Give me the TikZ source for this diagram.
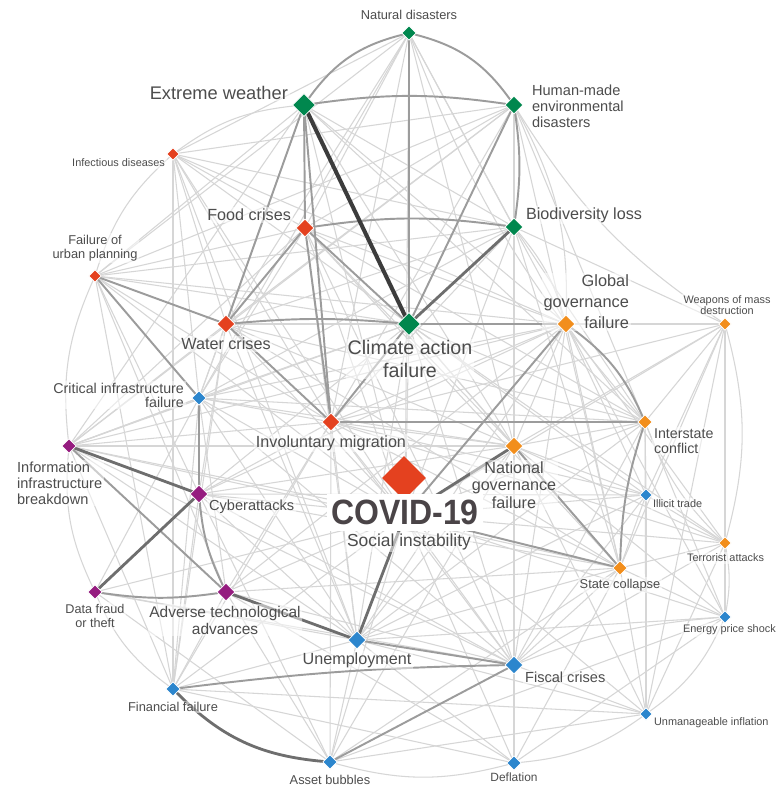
\documentclass[tikz,border=0pt]{standalone}
\usepackage{fontspec}
\setmainfont{Liberation Sans}
\usepackage{xcolor}
\usetikzlibrary{shapes.geometric,backgrounds}

\definecolor{envgreen}{HTML}{00874E}
\definecolor{socred}{HTML}{E4411F}
\definecolor{geoorange}{HTML}{F28E1C}
\definecolor{ecoblue}{HTML}{2C86CD}
\definecolor{techpurple}{HTML}{951C7F}
\definecolor{labelgray}{HTML}{4D4D4D}
\definecolor{covidgray}{HTML}{4A4447}
\definecolor{linkdark}{HTML}{3C3C3C}
\definecolor{linkmid}{HTML}{6E6E6E}
\definecolor{linkgray}{HTML}{9C9C9C}
\definecolor{linklight}{HTML}{D6D6D6}

\begin{document}
\begin{tikzpicture}[
  x=0.02cm, y=-0.02cm,
  risk/.style={diamond, draw=white, line width=0.4pt, inner sep=0pt, fill=#1},
  riskxl/.style={risk=#1, minimum size=0.46cm},
  riskmd/.style={risk=#1, minimum size=0.36cm},
  risksm/.style={risk=#1, minimum size=0.29cm},
  risktn/.style={risk=#1, minimum size=0.25cm},
  lbl/.style={text=labelgray, inner sep=1pt, fill=white, fill opacity=0.5, text opacity=1},
  lblxl/.style={lbl, font=\fontsize{10.4}{13}\selectfont},
  lblmd/.style={lbl, font=\fontsize{9.2}{10}\selectfont},
  lblsm/.style={lbl, font=\fontsize{8.3}{9}\selectfont},
  lbltn/.style={lbl, font=\fontsize{7.3}{8}\selectfont},
  lblxs/.style={lbl, font=\fontsize{6.2}{6.4}\selectfont},
  covidbox/.style={fill=white, text=covidgray, inner sep=0pt,
    minimum width=3.12cm, minimum height=0.74cm,
    font=\bfseries\fontsize{20}{20}\selectfont},
  link/.style={line cap=round},
  linkheavy/.style={link, draw=linkdark, line width=2.3pt},
  linkstrong/.style={link, draw=linkmid, line width=1.6pt},
  linkmed/.style={link, draw=linkgray, line width=1.1pt},
  linkfaint/.style={link, draw=linklight, line width=0.6pt}
]
% Labels (under the diamonds)
\node[lbltn] (nat-l) at (409,15) {Natural disasters};
\node[lblxl, anchor=east] (ext-l) at (290,93) {Extreme weather};
\node[lblsm, anchor=west, align=left] (hum-l) at (530,106) {Human-made\\environmental\\disasters};
\node[lblxs, anchor=east] (inf-l) at (167,163) {Infectious diseases};
\node[lblmd, anchor=east] (food-l) at (293,215) {Food crises};
\node[lblmd, anchor=west] (bio-l) at (524,215) {Biodiversity loss};
\node[lbltn, align=center] (urb-l) at (95,248) {Failure of\\urban planning};
\node[lblmd] (water-l) at (226,344) {Water crises};
\node[lblxl, align=center, font=\fontsize{11.2}{12.6}\selectfont] (clim-l) at (410,359) {Climate action\\failure};
\node[lblmd, anchor=east, align=right, font=\fontsize{9.3}{12}\selectfont] (glob-l) at (631,302) {Global\\governance\\failure};
\node[lblxs, align=center] (wmd-l) at (727,305) {Weapons of mass\\destruction};
\node[lblsm, anchor=east, align=right, font=\fontsize{8.1}{8}\selectfont] (crit-l) at (186,395) {Critical infrastructure\\failure};
\node[lblmd] (mig-l) at (331,443) {Involuntary migration};
\node[lblsm, anchor=west, align=left, font=\fontsize{8.1}{8.5}\selectfont] (inter-l) at (652,441) {Interstate\\conflict};
\node[lblmd, align=center] (natgov-l) at (514,485) {National\\governance\\failure};
\node[lblsm, anchor=west, align=left] (info-l) at (15,483) {Information\\infrastructure\\breakdown};
\node[lblxs, anchor=west] (illicit-l) at (651,504) {Illicit trade};
\node[lblsm, anchor=west] (cyber-l) at (207,507) {Cyberattacks};
\node[lblxl, font=\fontsize{9.9}{12}\selectfont] (social-l) at (409,542) {Social instability};
\node[lblxs, anchor=west] (terror-l) at (685,558) {Terrorist attacks};
\node[lbltn] (state-l) at (620,585) {State collapse};
\node[lbltn, align=center, font=\fontsize{7.2}{8.5}\selectfont] (fraud-l) at (95,616) {Data fraud\\or theft};
\node[lblmd, align=center, font=\fontsize{8.8}{9.7}\selectfont] (adv-l) at (225,620) {Adverse technological\\advances};
\node[lblxs, anchor=west] (energy-l) at (681,630) {Energy price shock};
\node[lblmd] (unemp-l) at (357,660) {Unemployment};
\node[lblsm, anchor=west] (fiscal-l) at (523,677) {Fiscal crises};
\node[lbltn] (fin-l) at (173,707) {Financial failure};
\node[lblxs, anchor=west] (infl-l) at (652,723) {Unmanageable inflation};
\node[lbltn] (asset-l) at (330,780) {Asset bubbles};
\node[lbltn, font=\fontsize{6.8}{8}\selectfont] (defl-l) at (514,777) {Deflation};

% Environmental risks
\node[risksm=envgreen] (nat) at (409,33) {};
\node[riskxl=envgreen] (ext) at (304,105) {};
\node[riskmd=envgreen] (hum) at (514,105) {};
\node[riskmd=envgreen] (bio) at (514,227) {};
\node[riskxl=envgreen] (clim) at (409,324) {};

% Societal risks
\node[risktn=socred] (inf) at (173,154) {};
\node[riskmd=socred] (food) at (305,228) {};
\node[risktn=socred] (urb) at (95,276) {};
\node[riskmd=socred] (water) at (226,324) {};
\node[riskmd=socred] (mig) at (331,422) {};
\node[diamond, fill=socred, inner sep=0pt, minimum size=0.88cm] (covid) at (404,478) {};
\coordinate (social) at (405,515);
\node[covidbox] (covid-l) at (405,512) {\scalebox{0.91}[1]{COVID-19}};

% Geopolitical risks
\node[riskmd=geoorange] (glob) at (566,324) {};
\node[risktn=geoorange] (wmd) at (725,324) {};
\node[risksm=geoorange] (inter) at (645,422) {};
\node[riskmd=geoorange] (natgov) at (514,446) {};
\node[risktn=geoorange] (terror) at (725,543) {};
\node[risksm=geoorange] (state) at (620,568) {};

% Technological risks
\node[risksm=ecoblue] (crit) at (199,398) {};
\node[risksm=techpurple] (info) at (69,446) {};
\node[riskmd=techpurple] (cyber) at (199,494) {};
\node[risksm=techpurple] (fraud) at (95,592) {};
\node[riskmd=techpurple] (adv) at (226,592) {};

% Economic risks
\node[risktn=ecoblue] (illicit) at (646,495) {};
\node[risktn=ecoblue] (energy) at (725,617) {};
\node[riskmd=ecoblue] (unemp) at (357,640) {};
\node[riskmd=ecoblue] (fiscal) at (514,665) {};
\node[risksm=ecoblue] (fin) at (173,689) {};
\node[risktn=ecoblue] (infl) at (646,714) {};
\node[risksm=ecoblue] (asset) at (330,762) {};
\node[risksm=ecoblue] (defl) at (514,763) {};

\useasboundingbox (0,0) rectangle (762,788);

\begin{scope}[on background layer]
\fill[white] (0,0) rectangle (762,788);

% Faint links
\path[linkfaint] (nat) edge (food) edge (water) edge (bio) edge (glob) edge (mig)
  edge (inf) edge (natgov) edge (crit) edge (urb) edge (social) edge[bend right=10] (inter);
\path[linkfaint] (ext) edge (urb) edge (bio) edge (glob) edge (natgov)
  edge (social) edge (inter) edge (crit) edge (info);
\path[linkfaint] (hum) edge (food) edge (water) edge[bend left=15] (glob) edge (mig) edge (inf)
  edge (inter) edge (state) edge (natgov) edge (urb) edge (info) edge[bend right=12] (wmd);
\path[linkfaint] (inf) edge (food) edge (water) edge (clim) edge (mig) edge (bio)
  edge (social) edge (unemp) edge (fin) edge (crit) edge (glob);
\path[linkfaint] (food) edge (glob) edge (natgov) edge (social) edge (unemp) edge (inter)
  edge (state) edge (crit) edge (urb) edge (fiscal) edge (info);
\path[linkfaint] (bio) edge (water) edge (mig) edge (natgov) edge (social) edge (fiscal)
  edge (crit) edge (urb) edge (inter) edge (state) edge (wmd) edge[bend left=12] (glob);
\path[linkfaint] (urb) edge (mig) edge (social) edge (clim) edge (cyber) edge (adv)
  edge (fin) edge (glob);
\path[linkfaint] (water) edge (social) edge (natgov) edge (crit) edge (cyber)
  edge (glob) edge (unemp) edge (fin) edge (state) edge (info) edge (inter);
\path[linkfaint] (clim) edge (natgov) edge (social) edge (inter) edge (crit)
  edge (fiscal) edge (unemp) edge (state) edge (info) edge (cyber) edge (illicit) edge (terror);
\path[linkfaint] (glob) edge (wmd) edge (natgov) edge (mig) edge (state) edge (illicit)
  edge (terror) edge (unemp) edge (fiscal) edge (cyber) edge (info) edge (crit)
  edge (energy) edge (adv);
\path[linkfaint] (wmd) edge (inter) edge (state) edge (illicit) edge (mig) edge (natgov)
  edge (social) edge (energy) edge (infl);
\path[linkfaint] (crit) edge (info) edge (mig) edge (social) edge (adv) edge (fin)
  edge (natgov) edge (inter) edge (fraud) edge (unemp) edge (fiscal);
\path[linkfaint] (mig) edge (natgov) edge (social) edge (state) edge (unemp) edge (cyber)
  edge (info) edge (terror) edge (fiscal) edge (illicit) edge (adv) edge (fin) edge (asset);
\path[linkfaint] (inter) edge (natgov) edge (illicit) edge[bend right=12] (terror) edge (social)
  edge (energy) edge (infl) edge (fiscal) edge (unemp);
\path[linkfaint] (natgov) edge (illicit) edge (terror) edge (unemp) edge (fiscal) edge (cyber)
  edge (info) edge (energy) edge (infl) edge (asset) edge (defl);
\path[linkfaint] (info) edge (crit) edge (social) edge (fin) edge (unemp) edge (fiscal) edge (state);
\path[linkfaint] (illicit) edge (state) edge (terror) edge (social) edge (fiscal) edge (cyber)
  edge (infl) edge (unemp);
\path[linkfaint] (cyber) edge (social) edge (unemp) edge (fin) edge (fiscal) edge (state) edge (asset);
\path[linkfaint] (social) edge (fiscal) edge (terror) edge (energy) edge (infl) edge (asset)
  edge (defl) edge (fin) edge (adv);
\path[linkfaint] (terror) edge (state) edge (infl) edge (fiscal);
\path[linkfaint] (state) edge (energy) edge (fiscal) edge (infl) edge (unemp) edge (defl)
  edge (asset) edge (adv);
\path[linkfaint] (fraud) edge (unemp) edge (asset) edge (fiscal) edge (social);
\path[linkfaint] (adv) edge (fin) edge (fiscal) edge (asset) edge (defl);
\path[linkfaint] (energy) edge[bend right=8] (fiscal) edge (defl) edge (unemp) edge (asset);
\path[linkfaint] (unemp) edge (fin) edge (asset) edge (defl) edge (infl);
\path[linkfaint] (fiscal) edge (defl) edge (infl);
\path[linkfaint] (fin) edge (defl) edge (infl);
\path[linkfaint] (infl) edge (asset);

% Outer ring
\path[linkfaint] (inf) edge[bend left=15] (ext);
\path[linkfaint] (urb) edge[bend left=15] (inf);
\path[linkfaint] (info) edge[bend left=15] (urb);
\path[linkfaint] (fraud) edge[bend left=15] (info);
\path[linkfaint] (fin) edge[bend left=15] (fraud);
\path[linkfaint] (defl) edge[bend left=15] (asset);
\path[linkfaint] (infl) edge[bend left=15] (defl);
\path[linkfaint] (energy) edge[bend left=15] (infl);
\path[linkfaint] (terror) edge[bend left=10] (energy);
\path[linkfaint] (wmd) edge[bend left=15] (terror);

% Medium links
\path[linkmed] (ext) edge[bend left=20] (nat) edge[bend left=8] (hum)
  edge (food) edge (mig) edge (water);
\path[linkmed] (nat) edge[bend left=20] (hum) edge (clim);
\path[linkmed] (hum) edge[bend left=8] (bio) edge (clim);
\path[linkmed] (food) edge[bend left=8] (bio) edge (mig) edge (water) edge (clim);
\path[linkmed] (water) edge[bend left=5] (clim) edge (urb) edge (mig);
\path[linkmed] (clim) edge (glob) edge (mig);
\path[linkmed] (glob) edge[bend left=15] (inter) edge (social);
\path[linkmed] (mig) edge (inter);
\path[linkmed] (urb) edge (crit);
\path[linkmed] (crit) edge (cyber);
\path[linkmed] (info) edge (adv);
\path[linkmed] (cyber) edge[bend right=10] (adv);
\path[linkmed] (fraud) edge[bend right=8] (adv);
\path[linkmed] (natgov) edge (state);
\path[linkmed] (social) edge (state);
\path[linkmed] (inter) edge[bend right=8] (state);
\path[linkmed] (unemp) edge (fiscal);
\path[linkmed] (fin) edge[bend left=3] (fiscal);
\path[linkmed] (asset) edge (fiscal);

% Strong links
\path[linkstrong] (bio) edge (clim);
\path[linkstrong] (info) edge (cyber);
\path[linkstrong] (cyber) edge (fraud);
\path[linkstrong] (adv) edge (unemp);
\path[linkstrong] (unemp) edge (social);
\path[linkstrong] (natgov) edge (social);
\path[linkstrong] (fin) edge[bend right=20] (asset);

% Heaviest link
\path[linkheavy] (ext) edge (clim);
\end{scope}
\end{tikzpicture}
\end{document}
